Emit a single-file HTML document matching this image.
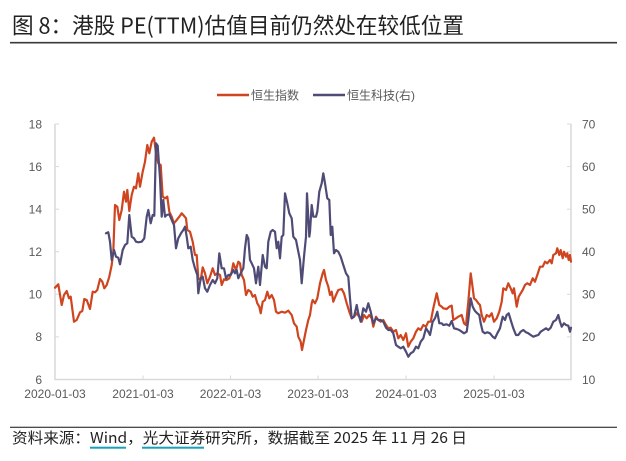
<!DOCTYPE html>
<html>
<head>
<meta charset="utf-8">
<style>
html,body{margin:0;padding:0;background:#fff;}
svg{display:block;}
</style>
</head>
<body>
<svg width="626" height="461" viewBox="0 0 626 461" xmlns="http://www.w3.org/2000/svg">
<rect width="626" height="461" fill="#fff"/>
<!-- Title -->
<text x="12" y="33.5" font-family="'Noto Sans CJK SC','Liberation Sans',sans-serif" font-size="22" fill="#222" textLength="452" lengthAdjust="spacingAndGlyphs">图 8：港股 PE(TTM)估值目前仍然处在较低位置</text>
<line x1="10" y1="42.7" x2="617" y2="42.7" stroke="#3a3a3a" stroke-width="1.6"/>

<!-- Legend -->
<line x1="217" y1="95" x2="249" y2="95" stroke="#cf4520" stroke-width="2.6"/>
<text x="251" y="99.5" font-family="'Liberation Sans','Noto Sans CJK SC',sans-serif" font-size="12" fill="#595959">恒生指数</text>
<line x1="313" y1="95" x2="345" y2="95" stroke="#4e4c76" stroke-width="2.6"/>
<text x="347" y="99.5" font-family="'Liberation Sans','Noto Sans CJK SC',sans-serif" font-size="12" fill="#595959">恒生科技(右)</text>

<!-- Axes -->
<g stroke="#d9d9d9" stroke-width="1.5" fill="none">
<line x1="55" y1="124" x2="55" y2="380"/>
<line x1="571" y1="124" x2="571" y2="380"/>
<line x1="54.5" y1="379.5" x2="571.5" y2="379.5"/>
</g>
<g stroke="#d9d9d9" stroke-width="1">
<line x1="55" y1="124" x2="59" y2="124"/>
<line x1="55" y1="166.6" x2="59" y2="166.6"/>
<line x1="55" y1="209.2" x2="59" y2="209.2"/>
<line x1="55" y1="251.75" x2="59" y2="251.75"/>
<line x1="55" y1="294.3" x2="59" y2="294.3"/>
<line x1="55" y1="336.9" x2="59" y2="336.9"/>
<line x1="567" y1="124" x2="571" y2="124"/>
<line x1="567" y1="166.6" x2="571" y2="166.6"/>
<line x1="567" y1="209.2" x2="571" y2="209.2"/>
<line x1="567" y1="251.75" x2="571" y2="251.75"/>
<line x1="567" y1="294.3" x2="571" y2="294.3"/>
<line x1="567" y1="336.9" x2="571" y2="336.9"/>
<line x1="143" y1="375.5" x2="143" y2="379.5"/>
<line x1="230.5" y1="375.5" x2="230.5" y2="379.5"/>
<line x1="318" y1="375.5" x2="318" y2="379.5"/>
<line x1="406" y1="375.5" x2="406" y2="379.5"/>
<line x1="494" y1="375.5" x2="494" y2="379.5"/>
</g>

<!-- Left tick labels -->
<g font-family="'Liberation Sans',sans-serif" font-size="12" fill="#595959" text-anchor="end">
<text x="42" y="128.3">18</text>
<text x="42" y="170.9">16</text>
<text x="42" y="213.5">14</text>
<text x="42" y="256">12</text>
<text x="42" y="298.6">10</text>
<text x="42" y="341.2">8</text>
<text x="42" y="384">6</text>
</g>
<!-- Right tick labels -->
<g font-family="'Liberation Sans',sans-serif" font-size="12" fill="#595959" text-anchor="start">
<text x="582" y="128.3">70</text>
<text x="582" y="170.9">60</text>
<text x="582" y="213.5">50</text>
<text x="582" y="256">40</text>
<text x="582" y="298.6">30</text>
<text x="582" y="341.2">20</text>
<text x="582" y="384">10</text>
</g>
<!-- X labels -->
<g font-family="'Liberation Sans',sans-serif" font-size="12" fill="#595959" text-anchor="middle">
<text x="55" y="398">2020-01-03</text>
<text x="143" y="398">2021-01-03</text>
<text x="230.5" y="398">2022-01-03</text>
<text x="318" y="398">2023-01-03</text>
<text x="406" y="398">2024-01-03</text>
<text x="494" y="398">2025-01-03</text>
</g>

<!-- HSI (red) -->
<polyline fill="none" stroke="#cf4520" stroke-width="2.2" stroke-linejoin="round" stroke-linecap="round" points="55,287.7 58.3,284.3 61.7,305 64,295 66.7,291 69,298.3 70.7,296.7 74,321.7 76.7,320 80,312.3 82.3,311 84.3,299 86.7,300 90,309 92.7,291.7 95,292.3 97.3,290 100,279 102.3,281.7 104.3,288.3 106.7,285 109.3,276.7 111.7,265 113.3,251.7 115,205 117.3,206.7 119.3,220 121.7,210 124,191.7 126,201.7 127.3,190 129.3,211 131.7,195 134,186.7 136,188.3 138.3,173.3 140,186.7 142.7,171.7 145,161.7 147.3,145 149.3,153.3 151.7,141.7 154,137.7 156,153.3 158.3,163.3 160.7,165 162.7,196.7 165,198.3 167.3,196.7 169.3,211.7 171.7,216.7 174,223.3 176.7,220 179.3,216.7 181.7,213.3 183.3,215 186,218.3 187.3,230 190,231.7 192.7,241.7 195,255 196.7,255 198.3,278.3 200.7,280 202.7,267.3 205,273.3 207.3,283.3 210,276.7 212.7,268.3 215,275 217.3,273.3 220,275 221.7,285 224,279.3 226.7,280 229.3,278.3 231.7,271.7 233.3,263.3 236,270 238.3,261.7 240,263.3 241.7,275 244,280 246,295 248.3,290 250.7,291.7 252.7,296.7 255,295 257.3,303.3 259.3,306.7 260.7,313.3 262.7,301.7 265,300 267.3,291.7 269.3,298.3 271.7,295 274,300 276,311.7 278.3,313.3 281.7,311.7 285,312.7 288.3,310.7 291.7,315 294,323.3 296.7,326.7 298.3,336.7 300.7,341.7 302,350 304,340 306,330 308.3,320 310,315 311.7,303.3 312.7,300 315,303.3 317.3,298.3 320,283.3 322.7,273.3 324,270 326,280 328.3,286.7 330,295 331.7,291.7 333.3,301.7 336,295 338.3,290 341.7,289 344,293.3 346.7,303.3 349.3,311.7 351.7,318.3 354,316.7 356.7,313.3 359.3,316.7 361.7,321.7 364,315 366.7,318.3 369.3,315 371.7,318.3 373.3,326.7 376,316.7 378.3,320 380.7,321.7 383.3,320 386,325 388.3,328.3 390.7,327.7 393.3,331.7 396,330 398.3,338.3 400.7,335 403.3,340 406,333.3 408.3,346.7 410.7,341.7 413.3,338.3 416,331.7 418.3,328.3 420.7,330 423.3,325 426,326.7 428.3,321.7 430.7,321.7 433.3,308.3 436.7,293.3 439.3,305 441.7,306.7 443.3,308.3 446.7,309 449.3,306.7 451.7,305.7 453.3,320 456,318.3 458.3,316.7 461.7,315 464,323.3 466,325 468.3,301.7 470.7,273.3 472.3,285 474,298.3 476,300 478.3,303.3 480,305 481.7,315 484,321.7 486.7,315 489.3,316.7 491.7,313.3 494,321.7 496.7,318.3 499.3,311.7 501.7,301.7 503.3,288.3 506,290 508.3,283.3 510.7,288.3 512.7,293.3 514,288.3 516.7,306.7 518.7,296.7 520.7,293.3 522.7,290 525,285 527.3,283.3 530,285 532.7,278.3 535,281.7 537.3,275 540,266.7 542.7,266.7 545,261.7 547.3,263.3 550,260 551.7,263.3 553.3,255 556,253.3 557.3,248.3 559.3,255 560.7,250 562.7,258.3 564,251.7 566,256.7 567.3,253.3 568.7,260 570,255 571,261.7"/>

<!-- HSTECH (blue) -->
<polyline fill="none" stroke="#4e4c76" stroke-width="2.2" stroke-linejoin="round" stroke-linecap="round" points="106,233.3 108.3,232.3 110,241.7 111.7,260 114,250 116,256.7 118.3,257.7 120,264.3 122.7,250 125,245 127.3,243.3 129.3,215 131.7,236.7 134,238.3 136,241.7 138.3,242.3 141.7,241.7 144.3,238.3 146.7,216.7 148.3,210 150.7,223.3 152.7,215 154.3,215.7 156,143.3 157.7,145.7 160,178.3 161.7,216.7 163.3,200 165,216.7 166.7,215 169.3,214.3 171.7,220 174,225 176,248.3 178.3,238.3 181,233.3 183.3,230 185,226.7 186.7,236.7 188.3,248.3 190.7,246.7 192.7,260 195,268.3 197.3,275 198.3,293.3 200.7,278.3 202.7,276.7 205,288.3 207.3,291.7 210,285 212.7,280 215,283.3 217.3,278.3 219.3,253.3 221.7,268.3 224,268.3 226,278.3 228.3,275 230.7,275 233.3,270 235,273.3 236.7,270 238.3,278.3 240.7,273.3 243.3,268.3 245,248.3 246.7,235 248.3,238.3 250,260 251.7,263.3 254,268.3 256,283.3 258.3,266.7 260,285 262.7,255 265,266.7 266.7,268.3 268.3,241.7 270.7,231.7 272.7,230 275,231.7 276.7,248.3 278.3,241.7 280,258.3 281.7,236.7 283.3,235 285,193.3 287.3,203.3 289.3,213.3 291.7,218.3 293.3,236.7 296,240 298.3,251.7 300,260 301.7,283.3 304,256.7 306,236.7 307,193.3 309.3,236.7 310,231.7 311.7,205 313.3,216.7 316,216.7 317.3,211.7 319.3,191.7 321.7,183.3 323.3,173.3 325,183.3 327.3,198.3 329.3,200 330.7,235 332.3,226.7 334,253.3 336,250 338.3,251.7 340.7,256.7 343.3,265 346,273.3 348.3,276.7 350,298.3 351.7,318.3 354,316.7 356.7,305 358.3,313.3 360.7,321.7 363.3,308.3 366,311.7 368.3,303.3 370.7,311.7 373.3,323.3 376,318.3 378.3,320 380.7,320 383.3,321.7 386,327.7 388.3,330 390.7,330 393.3,333.3 396,345 398.3,346.7 400.7,348.3 403.3,346.7 406,351.7 408.3,356.7 410.7,353.3 413.3,351.7 416,346.7 418.3,348.3 420.7,341.7 423.3,338.3 426,328.3 428.3,331.7 430,335 432.7,321.7 435,318.3 437.3,311.7 439.3,323.3 441.7,323.3 443.3,325 446.7,324.3 449.3,325.7 451.7,321 454,328.3 456.7,329 459.3,330 461.7,331.7 464,333.3 466.7,331.7 468.3,320 470.7,298.3 472.7,306.7 475,311 477.3,313.3 479.3,315 480.7,323.3 482.7,331.7 485,333.3 487.3,332.3 490,333.3 492.7,336.7 495,338.3 497.3,333.3 500,328.3 502.7,316.7 505,320 506.7,315 508.7,313.3 510.7,320 513.3,328.3 516,335 518.3,335 520.7,331.7 523.3,330 526,332.3 528.3,333.3 530.7,335 533.3,336.7 536,335.7 538.3,335 540.7,331.7 543.3,330 546,328.3 548.3,330 550.7,327.7 553.3,321.7 556,320 558.3,315 560,321.7 561.7,326.7 564,323.3 566,325 568.3,325.7 570,331.7 571,327.7"/>

<!-- Footer -->
<line x1="10" y1="427.3" x2="617" y2="427.3" stroke="#111" stroke-width="1"/>
<text x="12" y="443" font-family="'Noto Sans CJK SC','Liberation Sans',sans-serif" font-size="15" fill="#222" textLength="455" lengthAdjust="spacingAndGlyphs">资料来源：Wind，光大证券研究所，数据截至 2025 年 11 月 26 日</text>
<rect x="90" y="446.7" width="36" height="2" fill="#1aa0b8"/>
<rect x="142" y="446.7" width="62" height="2" fill="#1aa0b8"/>
</svg>
</body>
</html>
